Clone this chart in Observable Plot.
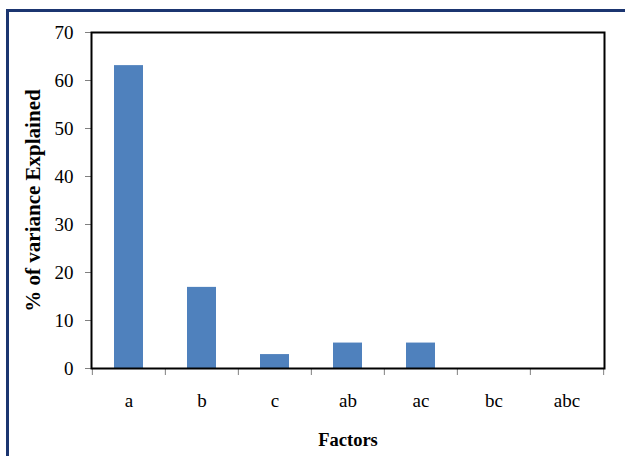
<!DOCTYPE html>
<html>
<head>
<meta charset="utf-8">
<script src="https://cdn.jsdelivr.net/npm/d3@7"></script>
<script src="https://cdn.jsdelivr.net/npm/@observablehq/plot@0.6"></script>
<style>
  html, body { margin: 0; padding: 0; background: #fff; overflow: hidden; }
  #wrap { position: relative; width: 625px; height: 456px; }
  #border { position: absolute; left: 6px; top: 9px; width: 700px; height: 600px;
            border-left: 3px solid #1b3570; border-top: 3px solid #1b3570; pointer-events: none; }
</style>
</head>
<body>
<div id="wrap"><div id="border"></div></div>
<script>
const factors = ["a", "b", "c", "ab", "ac", "bc", "abc"];
const variance = [63.1, 16.9, 2.9, 5.3, 5.3, 0, 0];
const yTicks = [0, 10, 20, 30, 40, 50, 60, 70];
const xTitle = "Factors";
const yTitle = "% of variance Explained";

const data = factors.map((f, i) => ({factor: f, value: variance[i]}));

const W = 625, H = 456, ML = 91, MR = 21, MT = 32, MB = 88;
const band = (W - ML - MR) / factors.length;

const chart = Plot.plot({
  width: W,
  height: H,
  marginLeft: ML,
  marginRight: MR,
  marginTop: MT,
  marginBottom: MB,
  style: {fontFamily: "'Liberation Serif', 'Times New Roman', serif", fontSize: "19px", color: "#000", background: "transparent"},
  x: {domain: factors, padding: 0},
  y: {domain: [0, 70]},
  marks: [
    Plot.barY(data, {x: "factor", y: "value", fill: "#4f81bd", insetLeft: 22, insetRight: 22}),
    Plot.axisY({ticks: yTicks, tickSize: 6, tickPadding: 12, stroke: "#808080", fill: "#000", fontSize: 19, label: null}),
    Plot.axisX({tickSize: 0, tickPadding: 25, fill: "#000", fontSize: 19, label: null}),
    Plot.axisX({tickSize: 7, tickFormat: () => "", stroke: "#808080", dx: -band / 2, label: null}),
    Plot.axisX({ticks: [factors[factors.length - 1]], tickSize: 7, tickFormat: () => "", stroke: "#808080", dx: band / 2, label: null}),
    Plot.frame({stroke: "#000", strokeWidth: 2}),
    Plot.text([xTitle], {frameAnchor: "bottom", dy: 72, lineAnchor: "middle", fontWeight: "bold", fontSize: 18.5, fill: "#000"}),
    Plot.text([yTitle], {frameAnchor: "left", dx: -58, rotate: -90, textAnchor: "middle", lineAnchor: "middle", fontWeight: "bold", fontSize: 21, fill: "#000"})
  ]
});
document.getElementById("wrap").prepend(chart);
</script>
</body>
</html>
